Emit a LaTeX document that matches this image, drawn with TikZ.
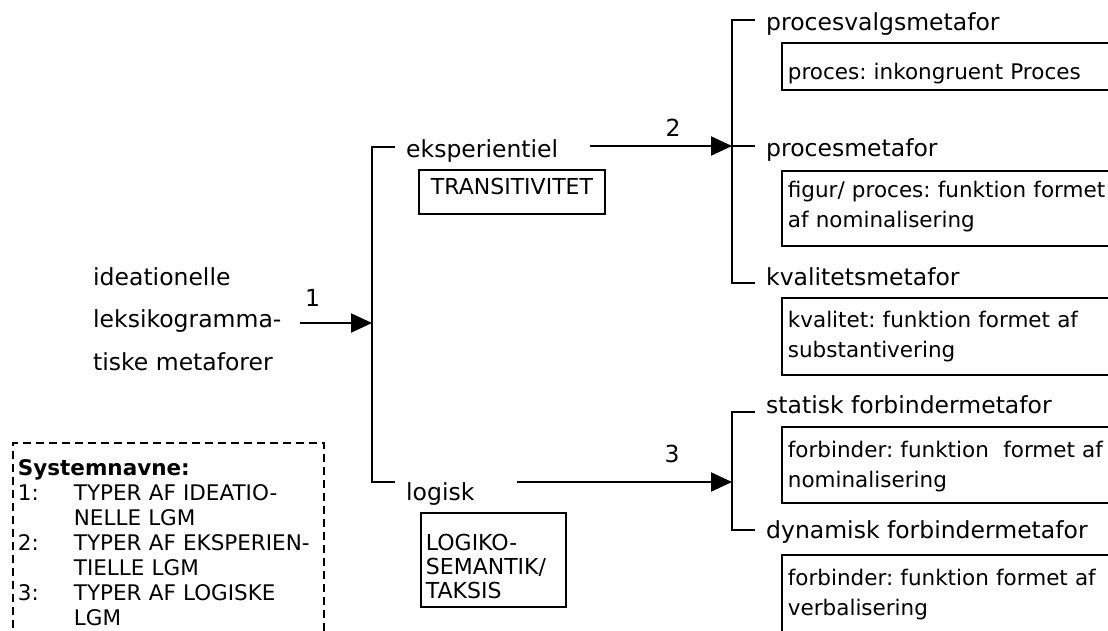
\documentclass[tikz,border=0pt]{standalone}
\usepackage{fontspec}
\setmainfont{DejaVu Sans}
\frenchspacing
\usetikzlibrary{arrows.meta}
\begin{document}
\begin{tikzpicture}[x=1pt,y=-1pt,
  conn/.style={line width=2.2pt},
  arr/.style={conn,-{Triangle[length=21pt,width=19pt]}},
  term/.style={anchor=base west,inner xsep=11pt,inner ysep=2pt,
    font=\fontsize{23.5}{28}\selectfont},
  num/.style={inner sep=0pt,font=\fontsize{23.5}{28}\selectfont},
  infobox/.style={draw,line width=1.8pt,anchor=base west,inner xsep=6pt,
    inner ysep=0pt,text width=330pt,align=left,
    font=\fontsize{21.5}{30.5}\selectfont},
  sysbox/.style={draw,line width=1.8pt,font=\fontsize{22}{24}\selectfont},
]
\useasboundingbox (0,0) rectangle (1108,631);
\clip (0,0) rectangle (1108,631);

% entry condition
\node[anchor=base west,inner sep=0pt,font=\fontsize{23.5}{42.5}\selectfont] (src) at (93,285)
  {\begin{tabular}[t]{@{}l@{}}ideationelle\\leksikogramma-\\tiske metaforer\end{tabular}};

% first system: eksperientiel / logisk
\coordinate (a1) at (300,323);
\coordinate (k1t) at (372,147);
\coordinate (k1m) at (372,323);
\coordinate (k1b) at (372,482);
\node[term] (eks) at (395,158) {eksperientiel};
\node[term] (log) at (395,500) {logisk};
\draw[conn] (eks.west |- k1t) -- (k1t) -- (k1b) -- (log.west |- k1b);
\draw[arr] (a1) -- (k1m);
\node[num] (n1) at (312.5,297.5) {1};

\node[sysbox,minimum width=186pt,minimum height=44pt,inner sep=0pt,
  text height=16pt,text depth=10pt] (trans) at (512,192) {TRANSITIVITET};
\node[sysbox,anchor=base west,inner xsep=5pt,inner ysep=0pt,text width=135pt,
  align=left,text height=37pt,text depth=57pt] (logsem) at (420,550)
  {\begin{tabular}[t]{@{}l@{}}LOGIKO-\\SEMANTIK/\\TAKSIS\end{tabular}};

% second system: experiential metaphors
\coordinate (a2) at (590,146);
\coordinate (k2t) at (732,20);
\coordinate (k2m) at (732,146);
\coordinate (k2b) at (732,283);
\node[term] (pv) at (755,30.5) {procesvalgsmetafor};
\node[term] (pm) at (755,157) {procesmetafor};
\node[term] (kv) at (755,285) {kvalitetsmetafor};
\draw[conn] (pv.west |- k2t) -- (k2t) -- (k2b) -- (kv.west |- k2b);
\draw[conn] (k2m) -- (pm.west |- k2m);
\draw[arr] (a2) -- (k2m);
\node[num] (n2) at (673,128) {2};

\node[infobox,text height=37pt,text depth=10pt] (d1) at (781,80)
  {proces: inkongruent Proces};
\node[infobox,text height=26pt,text depth=49pt] (d2) at (781,197)
  {\begin{tabular}[t]{@{}l@{}}figur/ proces: funktion formet\\af nominalisering\end{tabular}};
\node[infobox,text height=29pt,text depth=48pt] (d3) at (781,327)
  {\begin{tabular}[t]{@{}l@{}}kvalitet: funktion formet af\\substantivering\end{tabular}};

% third system: logical metaphors
\coordinate (a3) at (517,482);
\coordinate (k3t) at (732,412);
\coordinate (k3m) at (732,482);
\coordinate (k3b) at (732,530);
\node[term] (sf) at (755,413) {statisk forbindermetafor};
\node[term] (df) at (755,538) {dynamisk forbindermetafor};
\draw[conn] (sf.west |- k3t) -- (k3t) -- (k3b) -- (df.west |- k3b);
\draw[arr] (a3) -- (k3m);
\node[num] (n3) at (672,454) {3};

\node[infobox,text height=30pt,text depth=46pt] (d4) at (781,457)
  {\begin{tabular}[t]{@{}l@{}}forbinder: funktion\ \ formet af\\nominalisering\end{tabular}};
\node[infobox,text height=30pt,text depth=60pt] (d5) at (781,585)
  {\begin{tabular}[t]{@{}l@{}}forbinder: funktion formet af\\verbalisering\end{tabular}};

% legend of system names
\node[draw,dash pattern=on 8pt off 5pt,line width=1.8pt,anchor=base west,
  inner xsep=5pt,inner ysep=0pt,text width=301pt,align=left,
  text height=32pt,text depth=170pt,font=\fontsize{21.5}{25}\selectfont] (legend) at (12,475)
  {\begin{tabular}[t]{@{}p{56pt}@{}l@{}}
   \multicolumn{2}{@{}l@{}}{\bfseries Systemnavne:}\\
   1: & TYPER AF IDEATIO-\\
      & NELLE LGM\\
   2: & TYPER AF EKSPERIEN-\\
      & TIELLE LGM\\
   3: & TYPER AF LOGISKE\\
      & LGM
  \end{tabular}};
\end{tikzpicture}
\end{document}
